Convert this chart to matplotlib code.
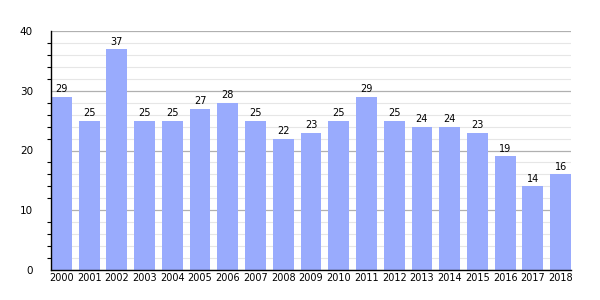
import matplotlib
matplotlib.use("Agg")
import matplotlib.pyplot as plt
import numpy as np
from matplotlib.ticker import MultipleLocator

years = [str(y) for y in range(2000, 2019)]
values = [29, 25, 37, 25, 25, 27, 28, 25, 22, 23, 25, 29, 25, 24, 24, 23, 19, 14, 16]

x = np.arange(len(years))
fig = plt.figure(figsize=(6, 3), dpi=100)
ax = fig.add_axes([51 / 600, 30 / 300, 520 / 600, 239 / 300])

ax.set_axisbelow(True)
ax.yaxis.set_major_locator(MultipleLocator(10))
ax.yaxis.set_minor_locator(MultipleLocator(2))
ax.grid(axis="y", which="major", color="#b0b0b0", lw=0.9)
ax.grid(axis="y", which="minor", color="#e6e6e6", lw=0.8)

ax.bar(x, values, 0.75, color="#99abfd")
for xi, v in zip(x, values):
    ax.text(xi, v + 0.4, str(v), ha="center", va="bottom", fontsize=7)

ax.set_xlim(-0.375, len(years) - 0.625)
ax.set_ylim(0, 40)
ax.set_xticks(x)
ax.set_xticklabels(years, fontsize=7)
ax.tick_params(axis="x", length=0, pad=2)
ax.tick_params(axis="y", which="major", length=0, labelsize=7.5, pad=13)
ax.tick_params(axis="y", which="minor", length=3, direction="out", width=0.8)
for s in ["top", "right"]:
    ax.spines[s].set_visible(False)
ax.spines["left"].set_linewidth(1)
ax.spines["bottom"].set_linewidth(1)

fig.savefig("out.png", dpi=100)
